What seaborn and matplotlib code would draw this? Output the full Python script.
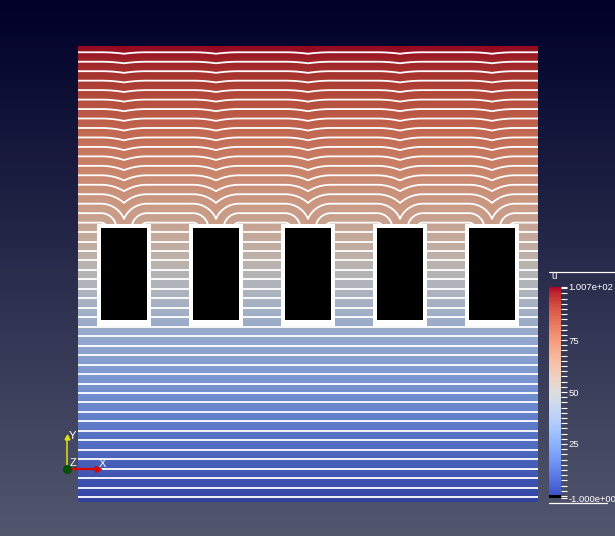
import numpy as np
import matplotlib
matplotlib.use("Agg")
import matplotlib.pyplot as plt
import matplotlib.colors as mcolors
from matplotlib.cm import ScalarMappable
from matplotlib.patches import Rectangle
from matplotlib.ticker import FixedLocator
import seaborn as sns

# geometry of the five holes (domain is the unit square)
hole_left = [0.05, 0.25, 0.45, 0.65, 0.85]
hole_width = 0.10
hole_bottom = 0.40
hole_top = 0.60

# scalar range / contours / colorbar
u_scale = 100.0
u_min, u_max = -1.0, 100.7
n_contours = 50
cbar_ticks = [-1.0, 25, 50, 75, 100.7]
cbar_labels = ["-1.000e+00", "25", "50", "75", "1.007e+02"]
cbar_minor = list(np.arange(0, 100.1, 2.5))

sns.set_style("white")
plt.rcParams["font.family"] = ["Liberation Sans", "DejaVu Sans"]

# distance from the bottom edge, going round the holes
nx, ny = 921, 913
x = np.linspace(0, 1, nx)
y = np.linspace(0, 1, ny)
X, Y = np.meshgrid(x, y)
in_col = np.zeros_like(X, dtype=bool)
corner = np.full_like(X, np.inf)
for xl in hole_left:
    in_col |= (X >= xl) & (X <= xl + hole_width)
    for xc in (xl, xl + hole_width):
        corner = np.minimum(corner, hole_top + np.hypot(X - xc, Y - hole_top))
dist = np.where((Y > hole_top) & in_col, corner, Y)
inside = in_col & (Y >= hole_bottom) & (Y <= hole_top)
U = np.ma.masked_where(inside, u_scale * dist)

W, H = 615, 536
fig = plt.figure(figsize=(W / 100, H / 100), dpi=100)

# gradient background
bg = fig.add_axes([0, 0, 1, 1])
bg_cmap = mcolors.LinearSegmentedColormap.from_list("bg", ["#000029", "#52576e"])
bg.imshow(np.linspace(0, 1, 256)[:, None], cmap=bg_cmap, aspect="auto",
          extent=(0, 1, 0, 1))
bg.set_axis_off()

base = sns.color_palette("coolwarm", as_cmap=True)
norm = mcolors.Normalize(u_min, u_max)
lit = base(np.linspace(0, 1, 256))
lit[:, :3] *= 0.82
field_cmap = mcolors.ListedColormap(lit)
field_cmap.set_bad("black")

ax = fig.add_axes([78 / W, 1 - 502 / H, 460 / W, 456 / H])
ax.imshow(U, origin="lower", extent=(0, 1, 0, 1), cmap=field_cmap, norm=norm,
          aspect="auto", interpolation="bilinear")
ax.contour(X, Y, U, levels=np.linspace(u_min, u_max, n_contours),
           colors="white", linewidths=1.3)
px, py = 4 / 460, 4 / 456
for xl in hole_left:
    ax.add_patch(Rectangle((xl - px, hole_bottom - 1.5 * py),
                           hole_width + 2 * px, hole_top - hole_bottom + 2.5 * py,
                           facecolor="white", edgecolor="none", zorder=3))
    ax.add_patch(Rectangle((xl, hole_bottom), hole_width, hole_top - hole_bottom,
                           facecolor="black", edgecolor="none", zorder=4))
ax.set_xlim(0, 1)
ax.set_ylim(0, 1)
ax.set_axis_off()

# colour legend
bar = base(np.linspace(0, 1, 256))
bar[:4] = [0, 0, 0, 1]
cax = fig.add_axes([549 / W, 1 - 498 / H, 11.7 / W, (498 - 286.7) / H])
cb = fig.colorbar(ScalarMappable(norm=norm, cmap=mcolors.ListedColormap(bar)),
                  cax=cax)
cb.outline.set_visible(False)
cb.set_ticks(cbar_ticks)
cb.set_ticklabels(cbar_labels)
cax.yaxis.set_minor_locator(FixedLocator(cbar_minor))
cax.tick_params(which="both", colors="white", length=4.3, width=0.8, pad=1.5,
                labelsize=6.8)
fig.text(554 / W, 1 - 276 / H, "u", color="white", fontsize=7,
         ha="center", va="center")

# overlay: frame lines and axes triad
ov = fig.add_axes([0, 0, 1, 1])
ov.set_xlim(0, W)
ov.set_ylim(H, 0)
ov.patch.set_alpha(0)
ov.set_axis_off()
ov.plot([549, 615], [272, 272], color="white", lw=0.9)
ov.plot([549, 607], [503, 503], color="white", lw=0.9)
ov.plot([66.5, 66.5], [468.5, 437], color="#e8e000", lw=1.1)
ov.plot(66.5, 437, marker="^", color="#e8e000", ms=3.5)
ov.plot([66.5, 98], [468.5, 468.5], color="#e00000", lw=1.6)
ov.plot(98, 468.5, marker=">", color="#e00000", ms=4)
ov.plot(66.5, 468.5, marker="o", color="#005000", ms=5.5)
ov.text(72, 436, "Y", color="white", fontsize=8, ha="center", va="center")
ov.text(102, 464, "X", color="white", fontsize=8, ha="center", va="center")
ov.text(72.5, 463, "Z", color="white", fontsize=8, ha="center", va="center")

fig.savefig("out.png", dpi=100)
